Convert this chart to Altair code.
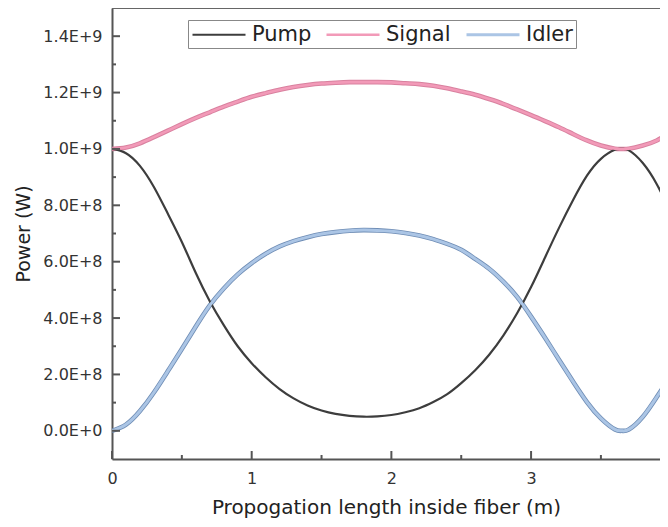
import altair as alt
import pandas as pd

# ---- data ----
xs = [0.0, 0.1, 0.2, 0.3, 0.4, 0.5, 0.6, 0.7, 0.8, 0.9, 1.0, 1.1, 1.2, 1.3, 1.4, 1.5,
      1.6, 1.7, 1.8, 1.9, 2.0, 2.1, 2.2, 2.3, 2.4, 2.5, 2.6, 2.7, 2.8, 2.9, 3.0, 3.1,
      3.2, 3.3, 3.4, 3.5, 3.6, 3.65, 3.7, 3.8, 3.9, 3.98]

pump = [10.0e8, 9.85e8, 9.4e8, 8.65e8, 7.7e8, 6.7e8, 5.6e8, 4.6e8, 3.75e8, 3.0e8, 2.4e8,
        1.9e8, 1.48e8, 1.15e8, 0.9e8, 0.72e8, 0.6e8, 0.53e8, 0.5e8, 0.51e8, 0.56e8,
        0.66e8, 0.8e8, 1.02e8, 1.3e8, 1.69e8, 2.15e8, 2.7e8, 3.37e8, 4.17e8, 5.1e8,
        6.15e8, 7.2e8, 8.18e8, 9.05e8, 9.65e8, 9.97e8, 10.0e8, 9.95e8, 9.5e8, 8.75e8, 7.95e8]

signal = [10.0e8, 10.05e8, 10.2e8, 10.42e8, 10.65e8, 10.88e8, 11.1e8, 11.3e8, 11.5e8,
          11.68e8, 11.85e8, 11.98e8, 12.1e8, 12.2e8, 12.27e8, 12.32e8, 12.35e8, 12.37e8,
          12.37e8, 12.37e8, 12.36e8, 12.33e8, 12.3e8, 12.24e8, 12.15e8, 12.04e8, 11.92e8,
          11.77e8, 11.6e8, 11.4e8, 11.2e8, 10.99e8, 10.77e8, 10.53e8, 10.3e8, 10.12e8,
          10.01e8, 10.0e8, 10.01e8, 10.12e8, 10.3e8, 10.55e8]

idler = [0.0, 0.22e8, 0.7e8, 1.36e8, 2.12e8, 2.9e8, 3.7e8, 4.45e8, 5.05e8, 5.55e8, 5.95e8,
         6.28e8, 6.54e8, 6.73e8, 6.87e8, 6.98e8, 7.05e8, 7.1e8, 7.12e8, 7.11e8, 7.08e8,
         7.02e8, 6.93e8, 6.8e8, 6.63e8, 6.42e8, 6.1e8, 5.75e8, 5.3e8, 4.75e8, 4.05e8,
         3.3e8, 2.52e8, 1.75e8, 1.02e8, 0.44e8, 0.05e8, 0.0, 0.05e8, 0.5e8, 1.2e8, 1.8e8]

series_names = ["Pump", "Signal", "Idler"]
series_colors = ["#3d3d3d", "#f29ab8", "#abc5e5"]
outline_colors = {"Signal": "#d9819f", "Idler": "#6f8db5"}

y_ticks = [0, 2e8, 4e8, 6e8, 8e8, 10e8, 12e8, 14e8]
y_minor = [1e8, 3e8, 5e8, 7e8, 9e8, 11e8, 13e8]
x_ticks = [0, 1, 2, 3]
x_minor = [0.5, 1.5, 2.5, 3.5]

W, H = 548, 451
FONT = "DejaVu Sans"
AXIS_COL = "#555555"
INTERP = "natural"

rows = []
for name, vals in zip(series_names, [pump, signal, idler]):
    for i, (x, v) in enumerate(zip(xs, vals)):
        rows.append({"x": x, "P": v, "series": name, "i": i})
df = pd.DataFrame(rows)

xscale = alt.Scale(domain=[0, 3.923], nice=False, zero=False)
yscale = alt.Scale(domain=[-1.0e8, 1.5e9], nice=False, zero=False)

label_expr = ("datum.value == 0 ? '0.0E+0' : format(datum.value / pow(10, floor(log(datum.value)/LN10 + 1e-9)), '.1f')"
              " + 'E+' + floor(log(datum.value)/LN10 + 1e-9)")

base = alt.Chart(df)

def outline(name):
    return base.transform_filter(alt.datum.series == name).mark_line(
        interpolate=INTERP, strokeWidth=4.6, color=outline_colors[name], clip=True
    ).encode(x=alt.X("x:Q", scale=xscale), y=alt.Y("P:Q", scale=yscale), order="i:Q")

lines = base.mark_line(interpolate=INTERP, clip=True).encode(
    x=alt.X("x:Q", scale=xscale,
            axis=alt.Axis(values=x_ticks, format="d", title="Propogation length inside fiber (m)",
                          ticks=False, grid=False, domainColor=AXIS_COL, domainWidth=2,
                          labelFlush=False,
                          labelFontSize=16, labelColor="#333333", labelPadding=11,
                          titleFontSize=20, titleFontWeight="normal", titleColor="#222222",
                          titlePadding=11, labelFont=FONT, titleFont=FONT)),
    y=alt.Y("P:Q", scale=yscale,
            axis=alt.Axis(values=y_ticks, title="Power (W)", ticks=False, grid=False,
                          domainColor=AXIS_COL, domainWidth=2, labelExpr=label_expr,
                          labelFontSize=16, labelColor="#333333", labelPadding=10,
                          titleFontSize=19, titleFontWeight="normal", titleColor="#222222",
                          titlePadding=9, labelFont=FONT, titleFont=FONT)),
    color=alt.Color("series:N",
                    scale=alt.Scale(domain=series_names, range=series_colors),
                    sort=series_names,
                    legend=alt.Legend(title=None, orient="none", legendX=76, legendY=12,
                                      direction="horizontal", columns=3,
                                      symbolType="M-1,0H4.3", symbolSize=400,
                                      symbolStrokeWidth=3, labelFontSize=21,
                                      labelFont=FONT, labelColor="#222222",
                                      labelOffset=38, columnPadding=9,
                                      fillColor="white", strokeColor="#888888",
                                      padding=3)),
    strokeWidth=alt.StrokeWidth("series:N", scale=alt.Scale(domain=series_names, range=[2.2, 3, 2.6]),
                                legend=None),
    order="i:Q",
)

# inward ticks
xt_major = alt.Chart(pd.DataFrame({"v": x_ticks})).mark_rule(color=AXIS_COL, strokeWidth=2).encode(
    x=alt.X("v:Q", scale=xscale), y=alt.value(H), y2=alt.value(H - 8))
xt_minor = alt.Chart(pd.DataFrame({"v": x_minor})).mark_rule(color=AXIS_COL, strokeWidth=2).encode(
    x=alt.X("v:Q", scale=xscale), y=alt.value(H), y2=alt.value(H - 4))
yt_major = alt.Chart(pd.DataFrame({"v": y_ticks})).mark_rule(color=AXIS_COL, strokeWidth=2).encode(
    y=alt.Y("v:Q", scale=yscale), x=alt.value(0), x2=alt.value(8))
yt_minor = alt.Chart(pd.DataFrame({"v": y_minor})).mark_rule(color=AXIS_COL, strokeWidth=2).encode(
    y=alt.Y("v:Q", scale=yscale), x=alt.value(0), x2=alt.value(4))
top_line = alt.Chart(pd.DataFrame({"v": [0]})).mark_rule(color="#666666", strokeWidth=2).encode(
    x=alt.value(0), x2=alt.value(W), y=alt.value(0))

chart = alt.layer(
    outline("Signal"), outline("Idler"), lines, xt_major, xt_minor, yt_major, yt_minor, top_line
).properties(
    width=W, height=H,
    padding={"left": 104, "top": 0, "right": 0, "bottom": 60},
    autosize=alt.AutoSizeParams(type="none"),
).configure_view(stroke=None).configure(background="white")

chart.save("out.html", embed_options={"renderer": "svg", "actions": False})
